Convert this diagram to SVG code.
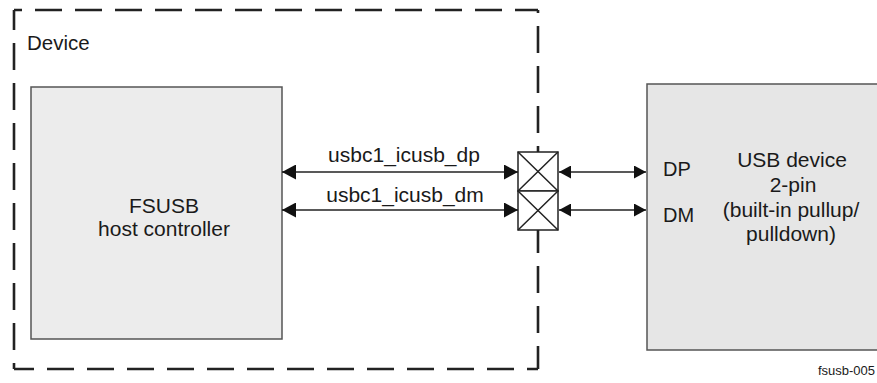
<svg xmlns="http://www.w3.org/2000/svg" width="877" height="383" viewBox="0 0 877 383">
<style>
text{font-family:"Liberation Sans",Arial,sans-serif;fill:#1a1a1a}
.t{font-size:21px}
.box{stroke:#555;stroke-width:1.5}
.ln{stroke:#222;stroke-width:1.5;fill:none}
.dash{stroke:#222;stroke-width:2.6;fill:none;stroke-dasharray:27 13}
</style>
<defs>
<marker id="aL" markerWidth="14" markerHeight="15" refX="14" refY="7.5" orient="auto-start-reverse" markerUnits="userSpaceOnUse"><path d="M0,0L14,7.5L0,15Z" fill="#111"/></marker>
<marker id="aS" markerWidth="12" markerHeight="13" refX="12" refY="6.5" orient="auto-start-reverse" markerUnits="userSpaceOnUse"><path d="M0,0L12,6.5L0,13Z" fill="#111"/></marker>
</defs>
<g id="device-boundary">
<path class="dash" d="M14,10H538" stroke-dashoffset="19"/>
<path class="dash" d="M538,10V369" stroke-dashoffset="24"/>
<path class="dash" d="M14,369H538" stroke-dashoffset="7"/>
<path class="dash" d="M14,10V369" stroke-dashoffset="7"/>
<text x="27" y="50" style="font-size:20.5px">Device</text>
</g>
<g id="fsusb">
<rect class="box" x="31" y="87" width="251" height="252" fill="#ececec"/>
<text class="t" x="164" y="213" text-anchor="middle">FSUSB</text>
<text class="t" x="164" y="236" text-anchor="middle">host controller</text>
</g>
<g id="usb-device">
<rect class="box" x="647" y="84" width="240" height="266" fill="#e6e6e6"/>
<text x="663" y="176" style="font-size:20px">DP</text>
<text x="663" y="222" style="font-size:20px">DM</text>
<text class="t" x="792" y="167" text-anchor="middle">USB device</text>
<text class="t" x="793" y="192" text-anchor="middle">2-pin</text>
<text class="t" x="791" y="217" text-anchor="middle">(built-in pullup/</text>
<text class="t" x="791" y="241" text-anchor="middle">pulldown)</text>
</g>
<g id="switch">
<rect x="518" y="152" width="40" height="39" fill="#fff" stroke="#222" stroke-width="1.5"/>
<rect x="518" y="191" width="40" height="39" fill="#fff" stroke="#222" stroke-width="1.5"/>
<path class="ln" stroke-width="1.2" d="M518,152L558,191M558,152L518,191M518,191L558,230M558,191L518,230"/>
</g>
<g id="connectors">
<line class="ln" x1="282" y1="172" x2="518" y2="172" marker-start="url(#aL)" marker-end="url(#aL)"/>
<line class="ln" x1="282" y1="210" x2="518" y2="210" marker-start="url(#aL)" marker-end="url(#aL)"/>
<line class="ln" x1="559" y1="172" x2="646" y2="172" marker-start="url(#aS)" marker-end="url(#aS)"/>
<line class="ln" x1="559" y1="210" x2="646" y2="210" marker-start="url(#aS)" marker-end="url(#aS)"/>
<text class="t" x="404" y="162" text-anchor="middle">usbc1_icusb_dp</text>
<text class="t" x="405" y="202" text-anchor="middle">usbc1_icusb_dm</text>
</g>
<text x="875" y="375" text-anchor="end" style="font-size:13px">fsusb-005</text>
</svg>
